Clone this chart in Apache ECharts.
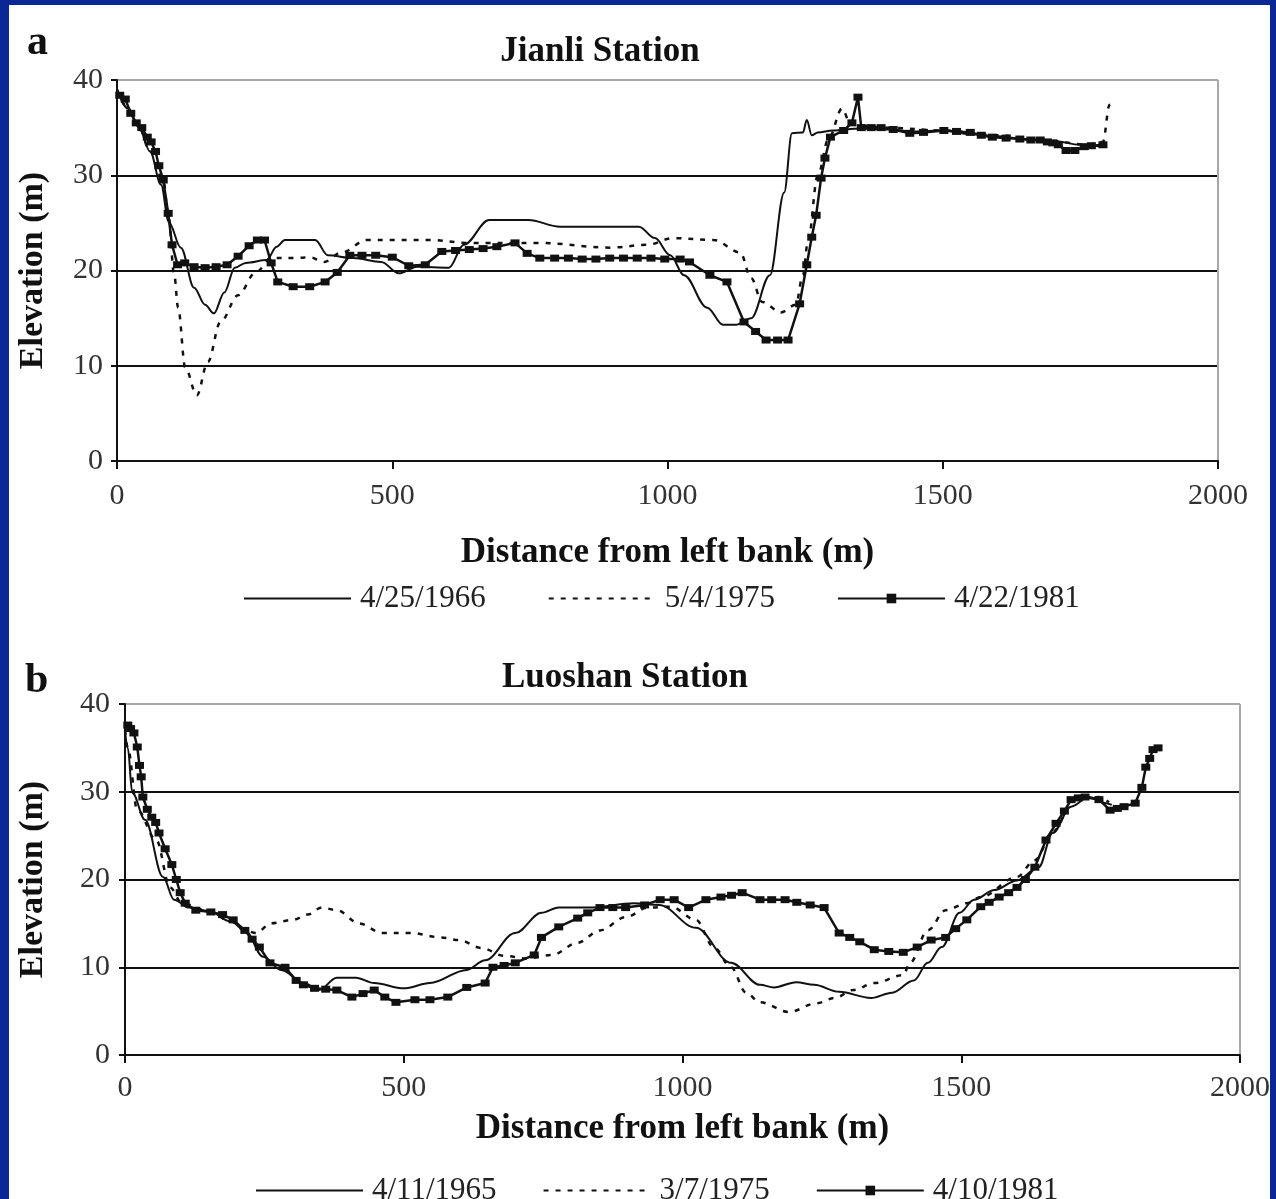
<!DOCTYPE html>
<html>
<head>
<meta charset="utf-8">
<script src="https://cdn.jsdelivr.net/npm/echarts@6/dist/echarts.min.js"></script>
<style>
html,body{margin:0;padding:0;background:#fff;overflow:hidden}
#c{position:absolute;left:0;top:0;width:1276px;height:1199px}
.bd{position:absolute;background:#0b2796;z-index:10}
</style>
</head>
<body>
<div id="c"></div>
<div class="bd" style="left:0;top:0;width:9px;height:1199px"></div>
<div class="bd" style="left:0;top:0;width:1276px;height:5px"></div>
<div class="bd" style="left:1270px;top:0;width:6px;height:1199px"></div>
<script>
// ---- Panel a: Jianli Station (distance m, elevation m)
const namesA = ['4/25/1966', '5/4/1975', '4/22/1981'];
const a1966 = [[0,39],[20,37],[40,35],[60,32.5],[80,29],[94,25.1],[116,22.4],[140,18.2],[160,16.4],[176,15.5],[195,17.7],[214,20.3],[234,20.8],[272,21.1],[290,22.5],[305,23.2],[360,23.2],[383,21.6],[429,21.3],[480,20.9],[512,19.7],[545,20.4],[603,20.3],[630,22.7],[676,25.3],[747,25.3],[805,24.6],[948,24.6],[977,23.4],[1005,21.6],[1030,19.5],[1072,16.1],[1101,14.3],[1124,14.3],[1152,15],[1186,19.5],[1212,28.2],[1226,34.4],[1246,34.5],[1253,35.8],[1262,34.2],[1273,34.5],[1300,34.7],[1350,34.9],[1400,34.8],[1450,34.6],[1500,34.7],[1550,34.3],[1600,34.1],[1650,33.8],[1700,33.6],[1750,33.2],[1790,33]];
const a1975 = [[0,39],[20,37],[40,35],[60,32.5],[84,29.5],[93,26],[104,19.5],[111,16.1],[124,9.8],[145,6.9],[165,10.4],[188,14.6],[220,17.4],[252,19.8],[280,21.3],[325,21.3],[350,21.4],[376,20.9],[408,21.9],[454,23.2],[570,23.2],[636,22.9],[766,22.9],[896,22.4],[963,22.7],[1010,23.4],[1084,23.2],[1132,21.9],[1152,19.2],[1172,16.7],[1206,15.6],[1233,16.4],[1246,19.5],[1255,23],[1273,30],[1293,33.9],[1317,37],[1333,35.3],[1400,35],[1500,34.7],[1600,34.2],[1700,33.6],[1760,33.2],[1791,33.5],[1803,37.4],[1810,37.8]];
const a1981 = [[5,38.4],[15,38],[25,36.5],[35,35.5],[45,35],[55,34],[62,33.5],[70,32.5],[76,31],[84,29.5],[93,26],[100,22.7],[110,20.6],[123,20.8],[140,20.4],[160,20.3],[180,20.4],[200,20.6],[220,21.5],[240,22.6],[255,23.2],[268,23.2],[280,20.8],[292,18.8],[320,18.3],[350,18.3],[378,18.8],[400,19.8],[423,21.6],[445,21.6],[470,21.6],[500,21.4],[530,20.5],[560,20.6],[590,22],[615,22.1],[640,22.2],[665,22.3],[690,22.5],[723,22.9],[745,21.8],[768,21.3],[795,21.3],[820,21.3],[845,21.2],[870,21.2],[895,21.3],[920,21.3],[945,21.3],[970,21.3],[995,21.2],[1023,21.2],[1040,20.9],[1077,19.5],[1108,18.8],[1139,14.6],[1160,13.6],[1179,12.7],[1200,12.7],[1219,12.7],[1240,16.5],[1253,20.6],[1262,23.5],[1270,25.8],[1279,29.7],[1286,31.8],[1296,34],[1320,34.7],[1335,35.5],[1346,38.2],[1352,35],[1370,35],[1388,35],[1410,34.8],[1440,34.4],[1465,34.5],[1502,34.7],[1525,34.6],[1550,34.5],[1570,34.2],[1590,34],[1615,33.9],[1640,33.8],[1660,33.7],[1677,33.7],[1690,33.5],[1700,33.4],[1710,33.2],[1724,32.6],[1740,32.6],[1757,33],[1770,33.1],[1791,33.2]];

// ---- Panel b: Luoshan Station
const namesB = ['4/11/1965', '3/7/1975', '4/10/1981'];
const b1965 = [[0,37],[5,35],[13,29.9],[36,26.8],[68,20.3],[88,17.7],[115,16.8],[150,16.4],[190,15.2],[215,14.2],[248,11.2],[280,9.7],[321,8.2],[348,7.4],[380,8.8],[414,8.8],[447,8.2],[500,7.6],[547,8.2],[613,9.7],[646,10.8],[700,13.9],[747,16.2],[778,16.8],[832,16.8],[913,17.3],[958,17.1],[1024,14.5],[1087,10.5],[1139,8],[1164,7.7],[1204,8.3],[1236,8],[1281,7.2],[1338,6.5],[1376,7.1],[1415,8.5],[1440,10.5],[1465,12.3],[1497,16.2],[1523,17.7],[1560,18.8],[1600,19.9],[1639,21.4],[1664,25.3],[1697,28.3],[1729,29.4],[1760,28.7],[1770,28.5]];
const b1975 = [[0,37],[5,35],[22,27.9],[56,24.5],[81,19.1],[102,17.3],[150,16.4],[190,15.2],[215,14.2],[235,13.9],[262,15],[301,15.4],[328,16],[353,16.8],[380,16.5],[420,15],[461,13.9],[513,13.9],[567,13.4],[599,13.1],[639,12.2],[680,11.3],[720,11],[766,11.4],[812,12.8],[852,14.2],[898,15.7],[938,16.8],[979,16.9],[1024,15.4],[1056,12.3],[1087,10],[1114,7.1],[1139,6],[1191,4.9],[1241,5.9],[1273,6.5],[1306,7.4],[1344,8.2],[1396,9.1],[1408,10.5],[1440,14.2],[1472,16.5],[1510,17.3],[1535,18],[1600,20.3],[1632,22.2],[1665,25.5],[1702,29.1],[1747,29.4],[1765,28.8]];
const b1981 = [[5,37.6],[10,37.2],[16,36.7],[22,35.1],[26,33],[29,31.7],[32,29.4],[40,28],[48,27.1],[55,26.5],[61,25.3],[72,23.5],[84,21.7],[92,20],[99,18.5],[108,17.3],[127,16.5],[154,16.3],[175,16],[194,15.4],[215,14.2],[228,13.2],[241,12.3],[260,10.5],[287,10],[307,8.5],[320,8],[340,7.6],[360,7.5],[380,7.4],[407,6.6],[427,7],[447,7.4],[466,6.6],[486,6],[520,6.3],[547,6.3],[579,6.6],[613,7.7],[646,8.2],[660,10],[680,10.2],[700,10.5],[734,11.4],[747,13.4],[778,14.6],[812,15.6],[830,16.2],[852,16.8],[875,16.8],[898,16.8],[932,17.1],[960,17.7],[985,17.7],[1011,16.8],[1042,17.7],[1069,18],[1088,18.2],[1107,18.5],[1139,17.7],[1160,17.7],[1184,17.7],[1205,17.4],[1229,17.1],[1254,16.8],[1281,13.9],[1300,13.4],[1318,12.9],[1344,12],[1370,11.8],[1396,11.7],[1421,12.3],[1446,13.1],[1472,13.4],[1490,14.4],[1510,15.4],[1535,16.9],[1550,17.4],[1568,18],[1585,18.5],[1600,19.1],[1615,20],[1632,21.4],[1652,24.5],[1670,26.4],[1685,27.8],[1697,29.1],[1710,29.3],[1722,29.4],[1747,29.1],[1767,27.9],[1780,28.1],[1792,28.3],[1812,28.7],[1824,30.5],[1831,32.8],[1838,33.8],[1844,34.8],[1853,35]];

const xMin = 0, xMax = 2000, xStep = 500;
const yMin = 0, yMax = 40, yStep = 10;

const SERIF = '"Liberation Serif","DejaVu Serif",serif';
const INK = '#111';
const CLEAR = 'rgba(0,0,0,0)';

function xAxisCfg(gi, nameGap, labelMargin) {
  return {
    gridIndex: gi, type: 'value', min: xMin, max: xMax, interval: xStep,
    name: 'Distance from left bank (m)', nameLocation: 'middle', nameGap: nameGap,
    nameTextStyle: { fontFamily: SERIF, fontSize: 35, fontWeight: 'bold', color: INK },
    axisLine: { show: true, onZero: false, lineStyle: { color: INK, width: 2 } },
    axisTick: { show: true, length: 8, lineStyle: { color: INK, width: 2 } },
    axisLabel: { fontFamily: SERIF, fontSize: 30, color: '#333', margin: labelMargin,
      formatter: function (v) { return String(v); } },
    splitLine: { show: true, lineStyle: { width: 2, color: [CLEAR, CLEAR, CLEAR, CLEAR, '#a8a8a8'] } }
  };
}
function yAxisCfg(gi, nameGap, labelMargin) {
  return {
    gridIndex: gi, type: 'value', min: yMin, max: yMax, interval: yStep,
    name: 'Elevation (m)', nameLocation: 'middle', nameGap: nameGap,
    nameTextStyle: { fontFamily: SERIF, fontSize: 34, fontWeight: 'bold', color: INK },
    axisLine: { show: true, lineStyle: { color: INK, width: 2 } },
    axisTick: { show: true, length: 6, lineStyle: { color: INK, width: 2 } },
    axisLabel: { fontFamily: SERIF, fontSize: 30, color: '#333', margin: labelMargin,
      formatter: function (v) { return String(v); } },
    splitLine: { show: true, lineStyle: { width: 2, color: ['#111','#111','#111','#111','#a8a8a8'] } }
  };
}
function solid(name, data, idx) {
  return { name: name, type: 'line', xAxisIndex: idx, yAxisIndex: idx, data: data,
    symbol: 'none', showSymbol: false, smooth: 0.35, smoothMonotone: 'x',
    itemStyle: { color: CLEAR, borderWidth: 0, borderColor: CLEAR },
    lineStyle: { color: INK, width: 2, type: 'solid' }, z: 3 };
}
function dashed(name, data, idx) {
  return { name: name, type: 'line', xAxisIndex: idx, yAxisIndex: idx, data: data,
    symbol: 'none', showSymbol: false, smooth: 0.35, smoothMonotone: 'x',
    itemStyle: { color: CLEAR, borderWidth: 0, borderColor: CLEAR },
    lineStyle: { color: INK, width: 2.5, type: [5, 7] }, z: 3 };
}
function marked(name, data, idx) {
  return { name: name, type: 'line', xAxisIndex: idx, yAxisIndex: idx, data: data,
    symbol: 'rect', symbolSize: [9, 7], showSymbol: true,
    itemStyle: { color: INK, borderWidth: 0 }, lineStyle: { color: INK, width: 2.5 }, z: 4 };
}
function legendCfg(names, left, top, gap) {
  return { data: names, left: left, top: top, itemWidth: 107, itemHeight: 12, itemGap: gap,
    textStyle: { fontFamily: SERIF, fontSize: 31, color: '#222', padding: [0, 0, 0, 4] } };
}

const chart = echarts.init(document.getElementById('c'), null, { renderer: 'canvas' });
chart.setOption({
  animation: false,
  backgroundColor: '#ffffff',
  grid: [
    { left: 117, top: 80, width: 1101, height: 381 },
    { left: 125, top: 704, width: 1115, height: 351 }
  ],
  xAxis: [ xAxisCfg(0, 74, 20), xAxisCfg(1, 56, 18) ],
  yAxis: [ yAxisCfg(0, 67, 14), yAxisCfg(1, 75, 15) ],
  legend: [ legendCfg(namesA, 238, 578, 62), legendCfg(namesB, 250, 1170, 46) ],
  graphic: [
    { type: 'text', left: 27, top: 22, style: { text: 'a', font: 'bold 42px ' + SERIF, fill: INK } },
    { type: 'text', x: 600, y: 52, style: { text: 'Jianli Station', font: 'bold 35px ' + SERIF, fill: INK, textAlign: 'center', textVerticalAlign: 'middle' } },
    { type: 'text', left: 25, top: 660, style: { text: 'b', font: 'bold 42px ' + SERIF, fill: INK } },
    { type: 'text', x: 625, y: 678, style: { text: 'Luoshan Station', font: 'bold 35px ' + SERIF, fill: INK, textAlign: 'center', textVerticalAlign: 'middle' } }
  ],
  series: [
    solid(namesA[0], a1966, 0), dashed(namesA[1], a1975, 0), marked(namesA[2], a1981, 0),
    solid(namesB[0], b1965, 1), dashed(namesB[1], b1975, 1), marked(namesB[2], b1981, 1)
  ]
});
</script>
</body>
</html>
